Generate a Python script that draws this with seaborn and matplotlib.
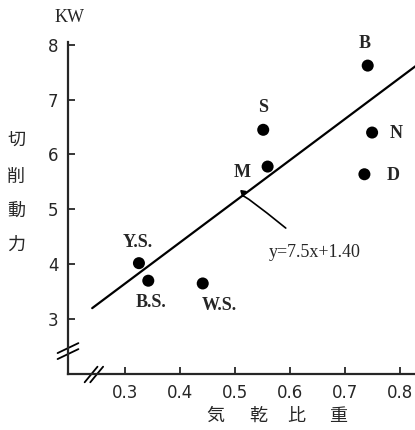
import seaborn as sns
import pandas as pd
import numpy as np
import matplotlib.pyplot as plt

# 気乾比重 vs 切削動力 (KW)
names = ['B', 'S', 'N', 'M', 'D', 'Y.S.', 'B.S.', 'W.S.']
density = [0.741, 0.551, 0.749, 0.559, 0.735, 0.325, 0.342, 0.441]
power = [7.62, 6.45, 6.40, 5.78, 5.64, 4.02, 3.70, 3.65]
slope, intercept = 7.5, 1.40
fit_x = [0.24, 0.85]
xticks = [0.3, 0.4, 0.5, 0.6, 0.7, 0.8]
yticks = [3, 4, 5, 6, 7, 8]

df = pd.DataFrame({'x': density, 'y': power, 'name': names})
fit = pd.DataFrame({'x': fit_x})
fit['y'] = slope * fit['x'] + intercept

sns.set_style('ticks')
jp = ['Noto Sans CJK JP', 'DejaVu Sans']

fig = plt.figure(figsize=(4.15, 4.30), dpi=100)
ax = fig.add_axes([68/415, 56/430, 347/415, 332/430])

sns.lineplot(data=fit, x='x', y='y', color='black', lw=1.6, ax=ax)
sns.scatterplot(data=df, x='x', y='y', color='black', s=75, edgecolor='none', ax=ax)

# label offsets in points
offs = {'B': (-2, 16), 'S': (0, 16), 'N': (17, -1), 'M': (-18, -4), 'D': (21, -1),
        'Y.S.': (-1, 15), 'B.S.': (2, -16), 'W.S.': (12, -16)}
for n, x, y in zip(names, density, power):
    ax.annotate(n, (x, y), xytext=offs[n], textcoords='offset points',
                ha='center', va='center', fontsize=13, fontweight='semibold',
                family='Liberation Serif')

ax.annotate('y=7.5x+1.40', xy=(0.513, slope*0.513+intercept - 0.04), xytext=(0.645, 4.22),
            ha='center', va='center', fontsize=13, family='Liberation Serif',
            arrowprops=dict(arrowstyle='-|>', lw=1.2, color='black', mutation_scale=9,
                            shrinkA=14, shrinkB=0, connectionstyle='angle3,angleA=-40,angleB=80'))

ax.set_xlim(0.196, 0.827)
ax.set_ylim(2.0, 8.05)
ax.set_xticks(xticks)
ax.set_xticklabels([f'{t:.1f}' for t in xticks])
ax.set_yticks(yticks)
ax.tick_params(direction='in', length=5, width=1.3, labelsize=12, pad=7)
ax.set_xlabel('')
ax.set_ylabel('')
for s in ['top', 'right']:
    ax.spines[s].set_visible(False)
for s in ['left', 'bottom']:
    ax.spines[s].set_linewidth(1.6)

# axis break marks
for d in [0, 0.018]:
    ax.plot([-0.03, 0.03], [0.045 + d, 0.075 + d], transform=ax.transAxes,
            color='black', lw=1.3, clip_on=False)
    ax.plot([0.048 + d*0.9, 0.085 + d*0.9], [-0.025, 0.022], transform=ax.transAxes,
            color='black', lw=1.3, clip_on=False)

fig.text(70/415, 1 - 17/430, 'KW', ha='center', va='center', fontsize=13,
         family='Liberation Serif')
for ch, py in zip('切削動力', [140, 177, 211, 245]):
    fig.text(16/415, 1 - py/430, ch, ha='center', va='center', fontsize=13, family=jp)
for ch, px in zip('気乾比重', [215, 258, 296, 338]):
    fig.text(px/415, 1 - 416/430, ch, ha='center', va='center', fontsize=13, family=jp)

fig.savefig('out.png', dpi=100)
